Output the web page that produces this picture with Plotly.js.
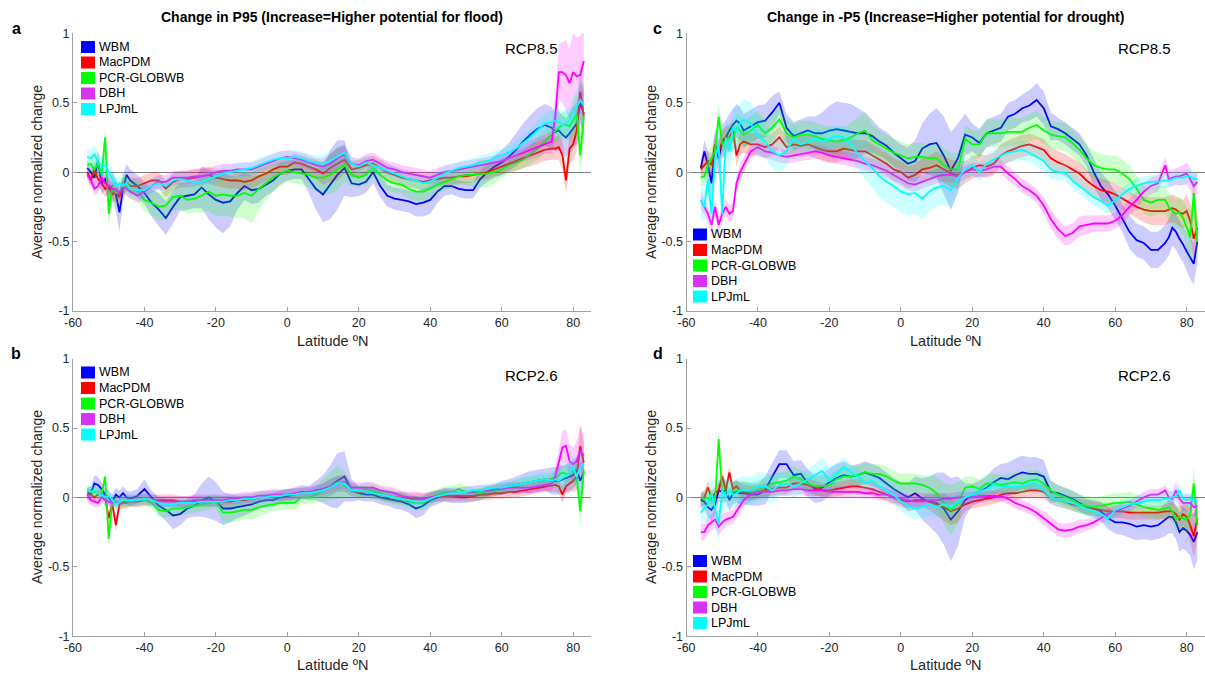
<!DOCTYPE html>
<html>
<head>
<meta charset="utf-8">
<script src="https://cdn.plot.ly/plotly-3.0.1.min.js"></script>
<style>html,body{margin:0;padding:0;background:#fff;}#chart{width:1205px;height:678px;}</style>
</head>
<body>
<div id="chart"></div>
<script>
// ---------------- DATA ----------------
const lat = [-56,-55,-54,-53,-52,-51,-50,-49,-48,-47,-46,-45,-44,
 -42,-40,-38,-36,-34,-32,-30,-28,-26,-24,
 -22,-20,-18,-16,-14,-12,-10,-8,-6,-4,
 -2,0,2,4,6,8,10,12,14,16,
 18,20,22,24,26,28,30,32,34,36,
 38,40,42,44,46,48,50,52,54,56,
 58,60,62,64,66,68,70,72,74,
 75,76,77,78,79,80,81,82,83];

const models = ['WBM','MacPDM','PCR-GLOBWB','DBH','LPJmL'];
const xTicks = [-60,-40,-20,0,20,40,60,80];
const xTickText = ['-60','-40','-20','0','20','40','60','80'];
const yTicks = [-1,-0.5,0,0.5,1];
const yTickText = ['-1','-0.5','0','0.5','1'];

// Panel a: Change in P95, RCP8.5
const a_WBM = [0.03,0.00,-0.04,0.08,-0.08,-0.05,-0.12,-0.10,-0.16,-0.29,-0.12,-0.02,-0.06,
-0.10,-0.15,-0.22,-0.27,-0.33,-0.25,-0.18,-0.17,-0.16,-0.11,
-0.16,-0.20,-0.22,-0.21,-0.15,-0.10,-0.13,-0.12,-0.09,-0.06,
-0.01,0.01,0.02,0.02,-0.05,-0.12,-0.16,-0.09,-0.02,0.03,
-0.08,-0.09,-0.07,0.00,-0.10,-0.17,-0.19,-0.20,-0.21,-0.23,
-0.22,-0.20,-0.14,-0.10,-0.10,-0.12,-0.13,-0.13,-0.05,0.00,
0.04,0.07,0.11,0.16,0.22,0.27,0.31,0.34,0.32,
0.29,0.30,0.27,0.25,0.28,0.32,0.35,0.50,0.42];
const a_WBM_sd = [0.05,0.06,0.07,0.08,0.08,0.08,0.10,0.10,0.12,0.14,0.10,0.08,0.08,
0.08,0.08,0.10,0.12,0.12,0.12,0.10,0.10,0.10,0.15,
0.18,0.20,0.22,0.18,0.12,0.10,0.10,0.10,0.08,0.08,
0.08,0.07,0.07,0.07,0.10,0.15,0.20,0.25,0.25,0.20,
0.10,0.08,0.08,0.08,0.08,0.08,0.08,0.08,0.08,0.09,
0.10,0.10,0.08,0.07,0.06,0.06,0.06,0.06,0.06,0.07,
0.08,0.09,0.10,0.12,0.13,0.14,0.15,0.15,0.15,
0.14,0.14,0.14,0.14,0.14,0.15,0.15,0.15,0.15];
const a_Mac = [0.00,-0.06,0.02,-0.05,-0.08,-0.12,-0.10,-0.16,-0.14,-0.18,-0.10,-0.08,-0.10,
-0.10,-0.08,-0.06,-0.06,-0.12,-0.07,-0.05,-0.05,-0.04,-0.03,
-0.02,-0.04,-0.05,-0.06,-0.06,-0.07,-0.06,-0.03,-0.01,0.02,
0.04,0.04,0.07,0.06,0.04,0.02,-0.01,0.03,0.06,0.09,
0.02,0.03,0.05,0.06,0.03,0.00,-0.02,-0.04,-0.05,-0.06,
-0.07,-0.06,-0.05,-0.04,-0.04,-0.03,-0.03,-0.02,-0.01,0.00,
0.02,0.04,0.06,0.08,0.10,0.12,0.14,0.16,0.17,
0.17,0.18,0.12,-0.06,0.17,0.20,0.30,0.58,0.40];
const a_Mac_sd = [0.04,0.05,0.05,0.05,0.06,0.06,0.06,0.06,0.07,0.07,0.06,0.06,0.06,
0.06,0.06,0.06,0.06,0.06,0.06,0.06,0.06,0.06,0.06,
0.06,0.06,0.06,0.06,0.06,0.06,0.06,0.06,0.06,0.06,
0.06,0.06,0.06,0.06,0.06,0.07,0.08,0.10,0.12,0.10,
0.06,0.06,0.06,0.06,0.06,0.06,0.06,0.06,0.06,0.06,
0.06,0.06,0.05,0.05,0.05,0.05,0.05,0.05,0.05,0.05,
0.05,0.06,0.06,0.07,0.07,0.08,0.08,0.08,0.08,
0.08,0.09,0.10,0.10,0.10,0.12,0.15,0.20,0.20];
const a_PCR = [0.05,0.06,0.02,0.06,-0.02,0.25,-0.30,-0.10,-0.15,-0.15,-0.08,-0.10,-0.12,
-0.13,-0.20,-0.22,-0.25,-0.24,-0.18,-0.17,-0.20,-0.19,-0.17,
-0.14,-0.17,-0.16,-0.17,-0.17,-0.15,-0.17,-0.12,-0.08,-0.04,
-0.01,0.01,0.00,-0.01,-0.02,-0.04,-0.04,-0.02,0.02,0.05,
-0.02,-0.04,-0.02,0.03,-0.02,-0.06,-0.08,-0.09,-0.12,-0.14,
-0.14,-0.12,-0.09,-0.07,-0.05,-0.03,-0.02,-0.02,-0.01,-0.01,
0.00,0.02,0.05,0.07,0.09,0.13,0.17,0.22,0.27,
0.30,0.32,0.34,0.34,0.33,0.38,0.42,0.12,0.40];
const a_PCR_sd = [0.05,0.06,0.06,0.07,0.07,0.08,0.10,0.08,0.08,0.08,0.07,0.07,0.07,
0.08,0.08,0.09,0.10,0.10,0.10,0.10,0.10,0.10,0.12,
0.14,0.15,0.15,0.15,0.16,0.18,0.20,0.15,0.12,0.10,
0.09,0.08,0.08,0.08,0.09,0.10,0.12,0.14,0.15,0.12,
0.08,0.07,0.07,0.07,0.07,0.07,0.07,0.07,0.07,0.07,
0.07,0.07,0.06,0.06,0.06,0.06,0.07,0.08,0.10,0.10,
0.08,0.06,0.06,0.06,0.07,0.07,0.08,0.08,0.08,
0.08,0.09,0.09,0.10,0.10,0.12,0.15,0.15,0.15];
const a_DBH = [-0.02,-0.06,-0.12,-0.10,-0.04,-0.08,-0.10,-0.12,-0.12,-0.15,-0.10,-0.12,-0.14,
-0.17,-0.14,-0.10,-0.07,-0.07,-0.04,-0.04,-0.04,-0.03,-0.03,
-0.02,0.00,0.01,0.01,0.02,0.02,0.02,0.04,0.06,0.08,
0.10,0.11,0.10,0.09,0.07,0.05,0.04,0.06,0.10,0.13,
0.06,0.05,0.08,0.09,0.06,0.03,0.02,0.00,-0.01,-0.02,
-0.03,-0.04,-0.02,0.00,0.01,0.02,0.03,0.04,0.05,0.06,
0.07,0.08,0.10,0.12,0.14,0.16,0.18,0.20,0.22,
0.40,0.72,0.72,0.70,0.64,0.72,0.69,0.70,0.80];
const a_DBH_sd = [0.04,0.04,0.05,0.05,0.05,0.05,0.05,0.05,0.05,0.05,0.05,0.05,0.05,
0.05,0.05,0.05,0.05,0.05,0.05,0.05,0.05,0.05,0.05,
0.05,0.05,0.05,0.05,0.05,0.05,0.05,0.05,0.05,0.05,
0.05,0.05,0.05,0.05,0.05,0.05,0.06,0.07,0.07,0.07,
0.05,0.05,0.05,0.05,0.05,0.05,0.05,0.05,0.05,0.05,
0.05,0.05,0.05,0.05,0.05,0.05,0.05,0.05,0.05,0.05,
0.05,0.05,0.05,0.06,0.06,0.07,0.07,0.07,0.08,
0.15,0.20,0.22,0.25,0.25,0.28,0.28,0.28,0.25];
const a_LPJ = [0.11,0.10,0.13,0.07,0.04,0.05,0.00,-0.05,-0.10,-0.08,-0.10,-0.08,-0.12,
-0.13,-0.13,-0.10,-0.08,-0.10,-0.06,-0.05,-0.06,-0.07,-0.07,
-0.05,-0.03,-0.01,0.00,0.01,0.02,0.03,0.05,0.07,0.09,
0.10,0.10,0.11,0.10,0.08,0.07,0.06,0.08,0.11,0.14,
0.06,0.04,0.07,0.05,0.03,0.01,-0.01,-0.03,-0.05,-0.06,
-0.08,-0.07,-0.04,-0.01,0.01,0.03,0.04,0.05,0.07,0.08,
0.10,0.12,0.14,0.17,0.21,0.25,0.30,0.35,0.36,
0.37,0.36,0.34,0.35,0.37,0.42,0.47,0.52,0.48];
const a_LPJ_sd = [0.06,0.06,0.07,0.07,0.07,0.07,0.07,0.06,0.06,0.06,0.05,0.05,0.05,
0.05,0.05,0.05,0.05,0.05,0.05,0.05,0.05,0.05,0.05,
0.05,0.05,0.05,0.05,0.05,0.05,0.05,0.05,0.05,0.05,
0.05,0.05,0.05,0.05,0.05,0.05,0.06,0.07,0.07,0.06,
0.05,0.05,0.05,0.05,0.05,0.05,0.05,0.05,0.05,0.05,
0.05,0.05,0.05,0.05,0.05,0.05,0.05,0.05,0.05,0.05,
0.05,0.05,0.05,0.06,0.06,0.06,0.07,0.07,0.08,
0.08,0.10,0.10,0.10,0.10,0.12,0.12,0.15,0.15];

// Panel c: Change in -P5, RCP8.5
const c_WBM = [0.03,0.15,0.05,-0.08,0.20,0.10,0.22,0.25,0.30,0.34,0.37,0.35,0.30,
0.33,0.36,0.37,0.43,0.50,0.32,0.26,0.28,0.30,0.28,
0.28,0.30,0.31,0.30,0.29,0.28,0.28,0.26,0.22,0.19,
0.14,0.10,0.06,0.08,0.17,0.20,0.21,0.12,0.01,0.10,
0.27,0.25,0.21,0.28,0.30,0.32,0.40,0.42,0.46,0.48,
0.52,0.46,0.33,0.31,0.28,0.24,0.20,0.12,0.00,-0.10,
-0.16,-0.24,-0.33,-0.43,-0.49,-0.51,-0.56,-0.56,-0.51,
-0.47,-0.40,-0.43,-0.48,-0.52,-0.57,-0.62,-0.66,-0.50];
const c_WBM_sd = [0.06,0.08,0.10,0.12,0.12,0.12,0.12,0.12,0.12,0.12,0.12,0.12,0.12,
0.12,0.12,0.12,0.12,0.08,0.10,0.10,0.10,0.10,0.12,
0.15,0.18,0.20,0.20,0.20,0.18,0.15,0.12,0.10,0.10,
0.10,0.10,0.12,0.15,0.18,0.22,0.25,0.28,0.28,0.25,
0.15,0.10,0.10,0.10,0.10,0.10,0.10,0.10,0.10,0.11,
0.12,0.12,0.10,0.08,0.08,0.08,0.08,0.08,0.10,0.10,
0.10,0.10,0.10,0.12,0.12,0.12,0.13,0.13,0.13,
0.13,0.13,0.13,0.13,0.13,0.14,0.15,0.15,0.15];
const c_Mac = [0.02,0.05,0.08,0.05,0.20,0.15,0.22,0.25,0.25,0.30,0.12,0.20,0.22,
0.20,0.20,0.18,0.20,0.25,0.18,0.20,0.19,0.20,0.18,
0.16,0.15,0.15,0.17,0.16,0.15,0.15,0.12,0.09,0.06,
0.02,0.00,-0.04,-0.02,0.02,0.03,0.05,0.02,-0.01,-0.02,
0.00,0.03,0.05,0.04,0.06,0.12,0.15,0.17,0.19,0.20,
0.18,0.16,0.10,0.07,0.05,0.02,-0.01,-0.06,-0.10,-0.13,
-0.14,-0.16,-0.19,-0.22,-0.25,-0.27,-0.28,-0.28,-0.28,
-0.27,-0.26,-0.27,-0.29,-0.30,-0.28,-0.35,-0.48,-0.40];
const c_Mac_sd = [0.06,0.07,0.08,0.08,0.08,0.08,0.08,0.08,0.08,0.08,0.08,0.08,0.08,
0.08,0.08,0.08,0.08,0.08,0.08,0.08,0.08,0.08,0.08,
0.08,0.08,0.08,0.08,0.08,0.08,0.08,0.08,0.08,0.08,
0.08,0.08,0.08,0.08,0.08,0.09,0.10,0.10,0.10,0.10,
0.08,0.08,0.08,0.08,0.08,0.08,0.08,0.08,0.08,0.08,
0.08,0.08,0.08,0.08,0.08,0.08,0.08,0.08,0.08,0.08,
0.08,0.08,0.08,0.08,0.08,0.09,0.10,0.10,0.10,
0.10,0.10,0.10,0.10,0.10,0.12,0.12,0.15,0.15];
const c_PCR = [-0.04,-0.03,0.05,0.10,0.15,0.40,0.20,0.22,0.25,0.24,0.32,0.30,0.27,
0.30,0.34,0.28,0.32,0.38,0.28,0.25,0.27,0.27,0.26,
0.24,0.23,0.22,0.23,0.25,0.28,0.30,0.23,0.20,0.17,
0.14,0.12,0.10,0.11,0.11,0.10,0.10,0.05,0.02,0.02,
0.24,0.20,0.20,0.28,0.28,0.28,0.29,0.29,0.29,0.32,
0.34,0.30,0.27,0.26,0.25,0.21,0.16,0.10,0.05,0.03,
0.02,0.02,-0.01,-0.05,-0.12,-0.20,-0.22,-0.20,-0.20,
-0.25,-0.28,-0.30,-0.29,-0.33,-0.40,-0.47,-0.15,-0.50];
const c_PCR_sd = [0.06,0.07,0.08,0.10,0.10,0.10,0.10,0.10,0.10,0.10,0.10,0.10,0.10,
0.10,0.10,0.10,0.10,0.10,0.10,0.10,0.10,0.10,0.10,
0.10,0.10,0.10,0.10,0.10,0.12,0.13,0.12,0.10,0.10,
0.10,0.10,0.10,0.10,0.10,0.10,0.12,0.12,0.12,0.12,
0.10,0.10,0.10,0.10,0.10,0.10,0.10,0.10,0.10,0.10,
0.10,0.10,0.10,0.10,0.10,0.10,0.10,0.10,0.10,0.10,
0.10,0.10,0.10,0.10,0.10,0.10,0.10,0.10,0.10,
0.10,0.10,0.10,0.12,0.12,0.15,0.20,0.20,0.20];
const c_DBH = [-0.20,-0.25,-0.30,-0.38,-0.25,-0.38,-0.30,-0.25,-0.30,-0.28,-0.08,0.00,0.05,
0.15,0.18,0.15,0.14,0.12,0.11,0.12,0.13,0.14,0.15,
0.14,0.12,0.11,0.10,0.09,0.08,0.06,0.05,0.03,0.01,
-0.02,-0.05,-0.08,-0.09,-0.07,-0.05,-0.03,-0.02,-0.02,-0.03,
0.00,0.02,0.01,0.02,0.04,0.04,-0.01,-0.05,-0.10,-0.13,
-0.17,-0.24,-0.34,-0.41,-0.46,-0.44,-0.39,-0.38,-0.37,-0.37,
-0.37,-0.35,-0.31,-0.25,-0.20,-0.14,-0.10,-0.08,0.05,
-0.05,-0.04,-0.03,-0.03,-0.02,-0.01,-0.05,-0.10,-0.07];
const c_DBH_sd = [0.06,0.06,0.06,0.06,0.06,0.06,0.06,0.06,0.06,0.06,0.06,0.06,0.06,
0.05,0.05,0.05,0.05,0.05,0.05,0.05,0.05,0.05,0.05,
0.05,0.05,0.05,0.05,0.05,0.05,0.05,0.05,0.05,0.05,
0.05,0.05,0.05,0.05,0.05,0.05,0.05,0.05,0.05,0.05,
0.05,0.05,0.05,0.05,0.05,0.05,0.05,0.05,0.05,0.05,
0.05,0.06,0.07,0.07,0.07,0.07,0.07,0.07,0.06,0.06,
0.06,0.06,0.06,0.06,0.06,0.06,0.06,0.06,0.06,
0.06,0.06,0.06,0.07,0.07,0.08,0.08,0.08,0.08];
const c_LPJ = [-0.20,-0.25,-0.05,-0.30,0.10,0.20,-0.30,0.25,0.15,0.32,0.30,0.35,0.38,
0.35,0.26,0.22,0.15,0.12,0.15,0.24,0.20,0.22,0.24,
0.22,0.24,0.26,0.25,0.20,0.13,0.08,0.03,-0.03,-0.07,
-0.10,-0.14,-0.16,-0.15,-0.19,-0.14,-0.11,-0.10,-0.13,-0.04,
0.02,0.05,0.00,0.06,0.09,0.12,0.14,0.15,0.16,0.14,
0.11,0.08,0.02,0.00,0.00,-0.06,-0.10,-0.14,-0.18,-0.21,
-0.24,-0.20,-0.16,-0.12,-0.10,-0.08,-0.07,-0.07,-0.06,
-0.06,-0.05,-0.04,-0.04,-0.04,-0.03,-0.03,-0.05,-0.05];
const c_LPJ_sd = [0.12,0.12,0.15,0.15,0.15,0.15,0.15,0.15,0.15,0.15,0.15,0.15,0.15,
0.15,0.15,0.12,0.12,0.12,0.10,0.10,0.08,0.08,0.08,
0.08,0.08,0.08,0.08,0.10,0.12,0.13,0.14,0.15,0.15,
0.15,0.15,0.15,0.15,0.15,0.14,0.14,0.14,0.12,0.10,
0.08,0.07,0.07,0.07,0.07,0.07,0.07,0.07,0.07,0.07,
0.07,0.07,0.07,0.06,0.06,0.06,0.06,0.06,0.06,0.06,
0.06,0.06,0.05,0.05,0.05,0.05,0.05,0.05,0.05,
0.05,0.05,0.05,0.05,0.05,0.05,0.05,0.05,0.05];

// Panel b: Change in P95, RCP2.6
const b_WBM = [0.03,0.03,0.10,0.09,0.06,0.02,0.00,-0.03,0.02,0.00,0.03,0.00,-0.01,
0.01,0.06,0.00,-0.06,-0.09,-0.13,-0.12,-0.08,-0.06,-0.02,
0.00,-0.03,-0.08,-0.08,-0.07,-0.06,-0.05,-0.03,-0.02,-0.02,
0.00,0.01,0.02,0.04,0.03,0.05,0.06,0.08,0.12,0.15,
0.05,0.03,0.02,0.02,0.00,-0.01,-0.02,-0.03,-0.05,-0.08,
-0.06,-0.02,0.00,0.02,0.01,0.00,0.00,0.01,0.02,0.04,
0.05,0.07,0.08,0.09,0.10,0.11,0.12,0.13,0.12,
0.12,0.12,0.13,0.14,0.15,0.16,0.20,0.12,0.18];
const b_WBM_sd = [0.04,0.05,0.06,0.06,0.05,0.05,0.05,0.05,0.05,0.05,0.05,0.05,0.05,
0.05,0.07,0.05,0.06,0.08,0.10,0.08,0.07,0.08,0.12,
0.15,0.14,0.12,0.10,0.08,0.07,0.06,0.05,0.05,0.05,
0.05,0.05,0.05,0.05,0.05,0.07,0.10,0.15,0.20,0.18,
0.08,0.05,0.05,0.05,0.05,0.05,0.06,0.06,0.06,0.07,
0.07,0.05,0.05,0.05,0.05,0.04,0.04,0.04,0.04,0.04,
0.04,0.05,0.05,0.06,0.07,0.08,0.08,0.08,0.10,
0.10,0.10,0.10,0.10,0.10,0.10,0.10,0.12,0.12];
const b_Mac = [0.02,0.02,0.00,0.02,0.03,0.00,-0.15,-0.05,-0.20,-0.05,-0.04,-0.04,-0.03,
-0.03,-0.02,-0.02,-0.02,-0.02,-0.02,-0.03,-0.03,-0.03,-0.03,
-0.03,-0.03,-0.03,-0.03,-0.02,-0.02,-0.01,0.00,0.01,0.01,
0.01,0.02,0.02,0.03,0.03,0.04,0.05,0.07,0.10,0.10,
0.05,0.04,0.04,0.03,0.02,0.01,0.00,0.00,-0.01,-0.01,
-0.01,0.00,0.01,0.01,0.01,0.01,0.01,0.01,0.02,0.02,
0.03,0.03,0.04,0.04,0.05,0.06,0.07,0.08,0.09,
0.09,0.08,0.02,0.08,0.10,0.12,0.15,0.37,0.25];
const b_Mac_sd = [0.04,0.04,0.04,0.04,0.04,0.04,0.05,0.04,0.05,0.04,0.04,0.04,0.04,
0.04,0.04,0.04,0.04,0.04,0.04,0.04,0.04,0.04,0.04,
0.04,0.04,0.04,0.04,0.04,0.04,0.04,0.04,0.04,0.04,
0.04,0.04,0.04,0.04,0.04,0.04,0.05,0.06,0.06,0.06,
0.04,0.04,0.04,0.04,0.04,0.04,0.04,0.04,0.04,0.04,
0.04,0.04,0.04,0.04,0.04,0.04,0.04,0.04,0.04,0.04,
0.04,0.04,0.04,0.04,0.04,0.04,0.04,0.04,0.05,
0.05,0.05,0.06,0.06,0.06,0.08,0.10,0.15,0.15];
const b_PCR = [0.05,0.04,0.04,0.03,0.02,0.15,-0.30,-0.02,-0.03,-0.04,-0.03,-0.03,-0.03,
-0.02,-0.02,-0.04,-0.09,-0.10,-0.08,-0.08,-0.07,-0.06,-0.05,
-0.04,-0.03,-0.11,-0.11,-0.10,-0.09,-0.09,-0.07,-0.06,-0.05,
-0.04,-0.04,-0.04,0.00,0.00,0.02,0.05,0.08,0.11,0.09,
0.05,0.04,0.06,0.05,0.03,0.01,0.00,-0.01,-0.03,-0.04,
-0.04,-0.01,0.02,0.04,0.04,0.06,0.04,0.03,0.03,0.04,
0.05,0.06,0.07,0.08,0.10,0.11,0.12,0.12,0.13,
0.14,0.16,0.18,0.17,0.17,0.20,0.15,-0.10,0.20];
const b_PCR_sd = [0.04,0.04,0.04,0.04,0.04,0.04,0.04,0.04,0.04,0.04,0.04,0.04,0.04,
0.04,0.04,0.04,0.05,0.05,0.05,0.05,0.05,0.05,0.05,
0.05,0.05,0.07,0.07,0.07,0.07,0.07,0.07,0.06,0.05,
0.05,0.05,0.05,0.05,0.05,0.06,0.08,0.10,0.12,0.10,
0.05,0.05,0.05,0.05,0.05,0.05,0.05,0.05,0.05,0.05,
0.05,0.05,0.04,0.04,0.04,0.04,0.04,0.04,0.04,0.04,
0.04,0.04,0.04,0.04,0.04,0.04,0.04,0.04,0.05,
0.05,0.05,0.06,0.06,0.06,0.08,0.10,0.12,0.12];
const b_DBH = [0.02,-0.02,-0.03,-0.04,0.00,-0.02,-0.03,-0.04,-0.04,-0.03,-0.03,-0.02,-0.02,
-0.02,-0.01,-0.02,-0.03,-0.03,-0.03,-0.03,-0.03,-0.02,-0.02,
-0.02,-0.02,-0.02,-0.01,-0.01,0.00,0.00,0.01,0.01,0.02,
0.02,0.02,0.03,0.03,0.04,0.05,0.06,0.08,0.10,0.11,
0.07,0.07,0.07,0.07,0.05,0.04,0.03,0.01,0.00,0.00,
-0.01,0.00,0.01,0.02,0.03,0.03,0.04,0.04,0.05,0.05,
0.06,0.06,0.07,0.07,0.07,0.07,0.08,0.09,0.10,
0.15,0.25,0.36,0.37,0.26,0.24,0.26,0.34,0.30];
const b_DBH_sd = [0.04,0.04,0.04,0.04,0.04,0.04,0.04,0.04,0.04,0.04,0.04,0.04,0.04,
0.04,0.04,0.04,0.04,0.04,0.04,0.04,0.04,0.04,0.04,
0.04,0.04,0.04,0.04,0.04,0.04,0.04,0.04,0.04,0.04,
0.04,0.04,0.04,0.04,0.04,0.04,0.04,0.05,0.05,0.05,
0.04,0.04,0.04,0.04,0.04,0.04,0.04,0.04,0.04,0.04,
0.04,0.04,0.04,0.04,0.04,0.04,0.04,0.04,0.04,0.04,
0.04,0.04,0.04,0.04,0.04,0.04,0.04,0.04,0.05,
0.06,0.10,0.12,0.12,0.12,0.12,0.15,0.18,0.15];
const b_LPJ = [0.05,0.04,0.05,0.03,0.02,0.00,0.01,-0.02,-0.05,-0.03,-0.02,-0.02,-0.02,
-0.02,-0.01,-0.02,-0.04,-0.05,-0.05,-0.04,-0.04,-0.04,-0.03,
-0.03,-0.03,-0.03,-0.02,-0.02,-0.01,-0.01,0.00,0.00,0.01,
0.01,0.02,0.02,0.03,0.03,0.04,0.05,0.07,0.10,0.10,
0.05,0.05,0.04,0.03,0.02,0.01,0.00,-0.01,-0.02,-0.03,
-0.03,-0.01,0.01,0.02,0.03,0.03,0.04,0.05,0.05,0.06,
0.07,0.07,0.08,0.09,0.10,0.11,0.12,0.13,0.12,
0.13,0.12,0.14,0.15,0.17,0.22,0.15,0.22,0.24];
const b_LPJ_sd = [0.04,0.04,0.04,0.04,0.04,0.04,0.04,0.04,0.04,0.04,0.04,0.04,0.04,
0.04,0.04,0.04,0.04,0.04,0.04,0.04,0.04,0.04,0.04,
0.04,0.04,0.04,0.04,0.04,0.04,0.04,0.04,0.04,0.04,
0.04,0.04,0.04,0.04,0.04,0.04,0.05,0.06,0.06,0.05,
0.04,0.04,0.04,0.04,0.04,0.04,0.04,0.04,0.04,0.04,
0.04,0.04,0.04,0.04,0.04,0.04,0.04,0.04,0.04,0.04,
0.04,0.04,0.04,0.04,0.05,0.05,0.05,0.05,0.05,
0.06,0.08,0.08,0.08,0.10,0.10,0.10,0.12,0.12];

// Panel d: Change in -P5, RCP2.6
const d_WBM = [-0.02,-0.03,-0.07,-0.09,-0.05,0.05,0.04,0.05,-0.02,0.03,0.04,0.03,0.03,
0.02,0.02,0.05,0.15,0.24,0.24,0.16,0.17,0.10,0.06,
0.07,0.11,0.14,0.16,0.15,0.16,0.18,0.16,0.14,0.10,
0.06,0.03,0.00,0.03,-0.01,-0.03,-0.04,-0.08,-0.16,-0.10,
-0.02,0.02,0.04,0.07,0.11,0.14,0.13,0.16,0.18,0.17,
0.17,0.15,0.04,0.03,0.01,-0.01,-0.04,-0.07,-0.08,-0.10,
-0.15,-0.18,-0.18,-0.19,-0.21,-0.20,-0.21,-0.20,-0.16,
-0.14,-0.14,-0.18,-0.25,-0.22,-0.24,-0.27,-0.32,-0.25];
const d_WBM_sd = [0.05,0.06,0.07,0.08,0.08,0.08,0.08,0.08,0.08,0.08,0.08,0.08,0.08,
0.08,0.08,0.10,0.10,0.10,0.10,0.10,0.10,0.10,0.10,
0.10,0.10,0.10,0.10,0.08,0.08,0.08,0.08,0.08,0.08,
0.08,0.08,0.10,0.12,0.15,0.18,0.22,0.26,0.30,0.25,
0.12,0.08,0.08,0.08,0.10,0.10,0.12,0.12,0.12,0.12,
0.12,0.12,0.08,0.06,0.06,0.06,0.06,0.06,0.06,0.07,
0.08,0.08,0.09,0.10,0.10,0.10,0.10,0.10,0.12,
0.12,0.12,0.12,0.14,0.15,0.15,0.15,0.20,0.20];
const d_Mac = [-0.02,0.00,0.07,0.00,0.03,0.05,0.15,0.05,0.18,0.06,0.08,0.05,0.04,
0.03,0.04,0.05,0.06,0.07,0.07,0.10,0.10,0.09,0.07,
0.05,0.05,0.06,0.07,0.08,0.08,0.07,0.06,0.04,0.02,
0.00,-0.02,-0.03,-0.02,-0.02,-0.03,-0.05,-0.07,-0.10,-0.08,
-0.05,-0.03,-0.02,-0.01,0.00,0.02,0.03,0.03,0.04,0.05,
0.05,0.04,0.00,-0.02,-0.03,-0.05,-0.06,-0.07,-0.08,-0.09,
-0.10,-0.10,-0.10,-0.11,-0.11,-0.11,-0.11,-0.11,-0.10,
-0.10,-0.10,-0.12,-0.16,-0.12,-0.14,-0.20,-0.28,-0.15];
const d_Mac_sd = [0.05,0.05,0.05,0.05,0.05,0.05,0.05,0.05,0.05,0.05,0.05,0.05,0.05,
0.05,0.05,0.05,0.05,0.05,0.05,0.05,0.05,0.05,0.05,
0.05,0.05,0.05,0.05,0.05,0.05,0.05,0.05,0.05,0.05,
0.05,0.05,0.05,0.05,0.05,0.06,0.08,0.10,0.10,0.10,
0.05,0.05,0.05,0.05,0.05,0.05,0.05,0.05,0.05,0.05,
0.05,0.05,0.05,0.05,0.05,0.05,0.05,0.05,0.05,0.05,
0.05,0.05,0.05,0.05,0.05,0.05,0.05,0.05,0.05,
0.06,0.06,0.07,0.08,0.08,0.10,0.12,0.15,0.15];
const d_PCR = [0.00,-0.01,0.00,-0.02,-0.02,0.42,0.03,0.04,0.04,0.04,0.05,0.05,0.05,
0.04,0.05,0.07,0.10,0.11,0.12,0.15,0.13,0.10,0.08,
0.08,0.09,0.13,0.15,0.15,0.16,0.18,0.17,0.17,0.15,
0.12,0.10,0.10,0.10,0.09,0.07,0.03,-0.04,-0.09,-0.04,
0.07,0.08,0.06,0.10,0.10,0.09,0.10,0.11,0.10,0.12,
0.13,0.10,0.05,0.02,0.00,-0.02,-0.05,-0.06,-0.07,-0.06,
-0.05,-0.04,-0.04,-0.03,-0.05,-0.07,-0.08,-0.09,-0.08,
-0.07,-0.10,-0.16,-0.14,-0.15,-0.16,-0.12,0.10,-0.20];
const d_PCR_sd = [0.05,0.06,0.06,0.07,0.07,0.07,0.07,0.07,0.07,0.07,0.07,0.07,0.07,
0.07,0.07,0.07,0.07,0.07,0.07,0.07,0.07,0.07,0.07,
0.07,0.07,0.07,0.07,0.07,0.07,0.07,0.07,0.07,0.07,
0.07,0.07,0.07,0.07,0.07,0.09,0.12,0.15,0.18,0.15,
0.08,0.07,0.07,0.07,0.07,0.07,0.07,0.07,0.07,0.07,
0.07,0.07,0.07,0.07,0.07,0.07,0.07,0.07,0.07,0.07,
0.07,0.07,0.07,0.07,0.07,0.07,0.07,0.07,0.07,
0.08,0.08,0.08,0.09,0.09,0.10,0.10,0.12,0.12];
const d_DBH = [-0.25,-0.25,-0.20,-0.18,-0.16,-0.21,-0.18,-0.16,-0.15,-0.14,-0.10,-0.06,-0.02,
0.02,0.04,0.04,0.04,0.05,0.05,0.06,0.06,0.05,0.05,
0.05,0.04,0.04,0.04,0.04,0.04,0.03,0.03,0.02,0.02,
0.00,-0.01,-0.02,-0.03,-0.03,-0.02,-0.02,-0.01,-0.01,0.00,
0.00,0.00,0.01,0.01,0.01,0.01,-0.01,-0.04,-0.06,-0.08,
-0.11,-0.15,-0.19,-0.23,-0.24,-0.23,-0.21,-0.20,-0.18,-0.15,
-0.12,-0.10,-0.08,-0.06,-0.03,0.00,0.02,0.02,0.05,
0.00,-0.01,0.05,-0.01,-0.04,-0.04,-0.04,-0.07,-0.06];
const d_DBH_sd = [0.06,0.06,0.06,0.06,0.06,0.06,0.06,0.05,0.05,0.05,0.05,0.05,0.05,
0.04,0.04,0.04,0.04,0.04,0.04,0.04,0.04,0.04,0.04,
0.04,0.04,0.04,0.04,0.04,0.04,0.04,0.04,0.04,0.04,
0.04,0.04,0.04,0.04,0.04,0.04,0.04,0.04,0.04,0.04,
0.04,0.04,0.04,0.04,0.04,0.04,0.04,0.04,0.04,0.04,
0.04,0.05,0.05,0.05,0.05,0.05,0.05,0.04,0.04,0.04,
0.04,0.04,0.04,0.04,0.04,0.04,0.04,0.04,0.04,
0.05,0.05,0.06,0.06,0.06,0.06,0.06,0.07,0.07];
const d_LPJ = [-0.11,-0.08,-0.05,0.03,-0.08,-0.19,0.05,0.00,0.05,0.02,0.03,0.05,0.05,
0.05,0.08,0.08,0.05,0.09,0.10,0.08,0.10,0.13,0.16,
0.19,0.12,0.17,0.22,0.18,0.15,0.10,0.12,0.08,0.05,
0.02,-0.03,-0.06,-0.08,-0.07,-0.05,-0.07,-0.05,-0.07,-0.03,
0.00,0.02,0.04,0.06,0.09,0.08,0.08,0.08,0.08,0.10,
0.10,0.05,0.00,-0.02,-0.03,-0.04,-0.06,-0.08,-0.10,-0.12,
-0.15,-0.09,-0.07,-0.05,-0.04,-0.03,-0.02,-0.02,-0.01,
-0.01,0.00,0.01,0.05,-0.01,-0.02,-0.01,-0.02,-0.02];
const d_LPJ_sd = [0.08,0.10,0.12,0.12,0.12,0.12,0.12,0.12,0.10,0.10,0.10,0.10,0.10,
0.10,0.10,0.10,0.10,0.08,0.08,0.08,0.08,0.08,0.08,
0.10,0.10,0.08,0.07,0.06,0.06,0.06,0.06,0.06,0.06,
0.06,0.07,0.08,0.08,0.08,0.08,0.08,0.08,0.08,0.06,
0.05,0.05,0.05,0.05,0.05,0.05,0.05,0.05,0.05,0.05,
0.05,0.05,0.05,0.05,0.05,0.05,0.05,0.05,0.05,0.05,
0.05,0.05,0.05,0.05,0.05,0.05,0.05,0.05,0.05,
0.05,0.05,0.05,0.05,0.05,0.05,0.05,0.05,0.05];

// ---------------- STYLE ----------------
const lineColors = ['#0000ff','#ff0000','#00ff00','#ff00ff','#00ffff'];
const bandColors = ['rgba(0,0,255,0.2)','rgba(255,0,0,0.2)','rgba(0,255,0,0.2)','rgba(255,0,255,0.2)','rgba(0,255,255,0.2)'];
const legendColors = ['#0000ff','#ff0000','#00ff00','#d633f5','#00ffff'];
const FONT = 'Liberation Sans, Arial, sans-serif';
const W = 1205, H = 678;
const px = x => x / W;
const py = y => 1 - y / H;

const panels = [
  {xa:'x',  ya:'y',  means:[a_WBM,a_Mac,a_PCR,a_DBH,a_LPJ], sds:[a_WBM_sd,a_Mac_sd,a_PCR_sd,a_DBH_sd,a_LPJ_sd]},
  {xa:'x2', ya:'y2', means:[c_WBM,c_Mac,c_PCR,c_DBH,c_LPJ], sds:[c_WBM_sd,c_Mac_sd,c_PCR_sd,c_DBH_sd,c_LPJ_sd]},
  {xa:'x3', ya:'y3', means:[b_WBM,b_Mac,b_PCR,b_DBH,b_LPJ], sds:[b_WBM_sd,b_Mac_sd,b_PCR_sd,b_DBH_sd,b_LPJ_sd]},
  {xa:'x4', ya:'y4', means:[d_WBM,d_Mac,d_PCR,d_DBH,d_LPJ], sds:[d_WBM_sd,d_Mac_sd,d_PCR_sd,d_DBH_sd,d_LPJ_sd]}
];

const traces = [];
panels.forEach(p => {
  p.means.forEach((m, i) => {
    const sd = p.sds[i];
    const up = m.map((v, k) => v + sd[k]);
    const lo = m.map((v, k) => v - sd[k]).reverse();
    traces.push({
      x: lat.concat(lat.slice().reverse()), y: up.concat(lo),
      type: 'scatter', mode: 'lines', fill: 'toself', fillcolor: bandColors[i],
      line: {width: 0, color: bandColors[i]}, hoverinfo: 'skip', showlegend: false,
      xaxis: p.xa, yaxis: p.ya
    });
    traces.push({
      x: lat, y: m, type: 'scatter', mode: 'lines', name: models[i],
      line: {color: lineColors[i], width: 1.8}, showlegend: false,
      xaxis: p.xa, yaxis: p.ya
    });
  });
});

const axisLine = '#a0a0a0';
function xAxis(domain, anchor) {
  return {domain: domain, anchor: anchor, range: [-60, 85], tickmode: 'array', tickvals: xTicks, ticktext: xTickText,
    ticks: 'inside', ticklen: 4, tickcolor: axisLine, showline: true, linecolor: axisLine, linewidth: 1,
    showgrid: false, zeroline: false, tickfont: {family: FONT, size: 12.5, color: '#262626'}};
}
function yAxis(domain, anchor) {
  return {domain: domain, anchor: anchor, range: [-1, 1], tickmode: 'array', tickvals: yTicks, ticktext: yTickText,
    ticks: 'inside', ticklen: 4, tickcolor: axisLine, showline: true, linecolor: axisLine, linewidth: 1,
    showgrid: false, zeroline: true, zerolinecolor: '#808080', zerolinewidth: 1,
    tickfont: {family: FONT, size: 12.5, color: '#262626'}};
}

const xDomL = [73 / W, 591 / W], xDomR = [686.5 / W, 1204.5 / W];
const yDomT = [1 - 311 / H, 1 - 33.3 / H], yDomB = [1 - 636.2 / H, 1 - 358.6 / H];

const annotations = [];
const shapes = [];
function txt(x, y, text, opts) {
  annotations.push(Object.assign({xref: 'paper', yref: 'paper', x: px(x), y: py(y), text: text, showarrow: false,
    xanchor: 'center', yanchor: 'middle', font: {family: FONT, size: 13, color: '#000'}}, opts || {}));
}
// titles
txt(332, 17, '<b>Change in P95 (Increase=Higher potential for flood)</b>', {font: {family: FONT, size: 14, color: '#000'}});
txt(945.5, 17, '<b>Change in -P5 (Increase=Higher potential for drought)</b>', {font: {family: FONT, size: 14, color: '#000'}});
// panel letters
[['a', 16, 29], ['b', 16, 353], ['c', 658, 29], ['d', 658, 353]].forEach(l =>
  txt(l[1], l[2], '<b>' + l[0] + '</b>', {font: {family: FONT, size: 16, color: '#000'}}));
// axis titles
[[332, 341], [945.5, 341], [332, 665], [945.5, 665]].forEach(p =>
  txt(p[0], p[1], 'Latitude ºN', {font: {family: FONT, size: 14.5, color: '#262626'}}));
[[37, 172], [651, 172], [37, 497], [651, 497]].forEach(p =>
  txt(p[0], p[1], 'Average normalized change', {textangle: -90, font: {family: FONT, size: 14, color: '#262626'}}));
// scenario labels
[['RCP8.5', 560, 49], ['RCP2.6', 560, 375], ['RCP8.5', 1173, 49], ['RCP2.6', 1173, 375]].forEach(l =>
  txt(l[1], l[2], l[0], {xanchor: 'right', font: {family: FONT, size: 15, color: '#000'}}));
// legends
const legendPos = [[81, 47], [81, 372.5], [693, 234.5], [693, 561]];
legendPos.forEach(lp => {
  models.forEach((m, i) => {
    const cy = lp[1] + i * 15.5;
    shapes.push({type: 'rect', xref: 'paper', yref: 'paper', x0: px(lp[0]), x1: px(lp[0] + 14),
      y0: py(cy + 6), y1: py(cy - 6), fillcolor: legendColors[i], line: {width: 0}});
    txt(lp[0] + 16, cy, m, {xanchor: 'left', font: {family: FONT, size: 12.5, color: '#000'}});
  });
});

const layout = {
  width: W, height: H, margin: {l: 0, r: 0, t: 0, b: 0},
  paper_bgcolor: '#fff', plot_bgcolor: '#fff', showlegend: false,
  font: {family: FONT},
  xaxis: xAxis(xDomL, 'y'), yaxis: yAxis(yDomT, 'x'),
  xaxis2: xAxis(xDomR, 'y2'), yaxis2: yAxis(yDomT, 'x2'),
  xaxis3: xAxis(xDomL, 'y3'), yaxis3: yAxis(yDomB, 'x3'),
  xaxis4: xAxis(xDomR, 'y4'), yaxis4: yAxis(yDomB, 'x4'),
  annotations: annotations, shapes: shapes
};

Plotly.newPlot('chart', traces, layout, {displayModeBar: false, staticPlot: true});
</script>
</body>
</html>
